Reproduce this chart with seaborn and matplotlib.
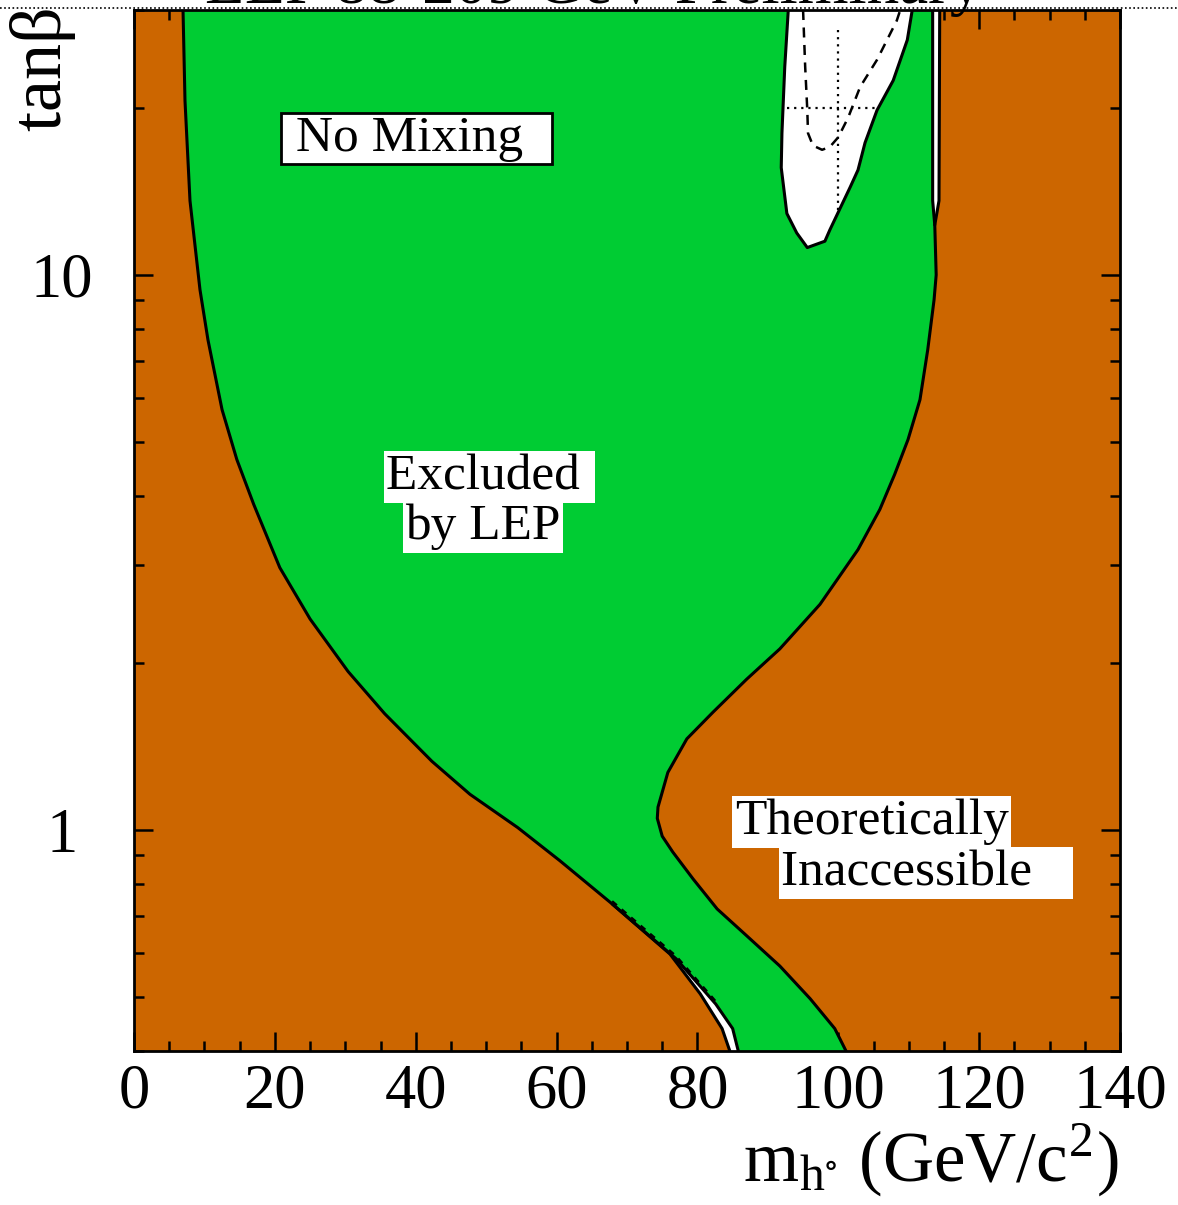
import numpy as np
import pandas as pd
import matplotlib
matplotlib.use("Agg")
import matplotlib.pyplot as plt
from matplotlib.ticker import FixedLocator, FixedFormatter, MultipleLocator, NullFormatter, LogLocator
from matplotlib.lines import Line2D
import seaborn as sns

# ---- data: boundaries in the (m_h, tan beta) plane ----
# left edge of the theoretically accessible region (top -> bottom)
left_x = [6.96, 7.24, 7.95, 9.37, 10.5, 12.5, 14.6, 17.0, 20.7, 25.0, 30.4, 35.6,
          42.3, 47.7, 54.5, 60.5, 67.9, 76.1, 80.4, 83.5, 84.6]
left_y = [30.0, 20.6, 13.6, 9.40, 7.64, 5.72, 4.65, 3.86, 2.97, 2.40, 1.93, 1.62,
          1.33, 1.16, 1.01, 0.880, 0.736, 0.598, 0.507, 0.439, 0.40]

# left edge of the LEP-excluded area near the bottom (splits off the boundary)
excl_low_x = [67.9, 77.0, 82.6, 85.0, 85.8]
excl_low_y = [0.736, 0.586, 0.486, 0.439, 0.40]

# right edge of the theoretically accessible region (top -> bottom)
right_x = [114.4, 114.3, 113.7, 113.9, 113.6, 112.7, 111.6, 109.9, 108.0, 105.9,
           102.8, 97.4, 91.7, 87.0, 82.2, 78.5, 75.8, 74.4, 74.3, 75.0, 76.5,
           79.4, 82.8, 87.0, 91.7, 96.0, 99.5, 101.1]
right_y = [30.0, 13.6, 12.3, 10.0, 9.02, 7.33, 5.96, 5.05, 4.37, 3.78, 3.20,
           2.55, 2.12, 1.87, 1.63, 1.46, 1.27, 1.10, 1.05, 0.975, 0.913, 0.816,
           0.721, 0.645, 0.569, 0.497, 0.439, 0.40]

# right edge of the LEP-excluded area at large tan beta
excl_top_x = [113.4, 113.4, 113.7]
excl_top_y = [30.0, 13.6, 12.3]

# allowed (not excluded) pocket at large tan beta
pocket_x = [92.9, 92.4, 92.0, 91.9, 92.7, 94.1, 95.6, 98.1, 98.8, 101.7, 102.8,
            103.8, 105.5, 107.8, 109.8, 110.5]
pocket_y = [30.0, 23.7, 18.0, 15.6, 12.9, 11.9, 11.2, 11.5, 12.05, 14.4, 15.45,
            17.3, 19.8, 22.4, 26.5, 30.0]

# expected limit (dashed)
expected_x = [95.0, 95.3, 95.6, 95.7, 96.4, 97.7, 98.8, 100.0, 101.4, 103.1,
              105.5, 108.3, 108.8]
expected_y = [30.0, 23.7, 19.8, 18.0, 17.1, 16.8, 17.0, 17.7, 19.2, 21.8, 24.4,
              28.7, 30.0]

# reference point cross-hair (dotted)
cross_v_x = [100.0, 100.0]
cross_v_y = [27.6, 12.9]
cross_h_x = [92.7, 105.5]
cross_h_y = [20.0, 20.0]

x_ticks = [0, 20, 40, 60, 80, 100, 120, 140]
y_ticks = [1, 10]
y_ticklabels = ["1", "10"]

ORANGE = "#CC6600"
GREEN = "#00CC33"

sns.set_theme(style="ticks")
plt.rcParams["font.family"] = ["Liberation Serif", "DejaVu Serif"]
plt.rcParams["mathtext.fontset"] = "stix"
for key in ("text.color", "axes.labelcolor", "xtick.color", "ytick.color",
            "xtick.labelcolor", "ytick.labelcolor"):
    plt.rcParams[key] = "black"

fig = plt.figure(figsize=(11.78, 12.05), dpi=100)
ax = fig.add_axes([134 / 1178, 1 - 1051 / 1205, (1120 - 134) / 1178, (1051 - 10) / 1205])
ax.set_facecolor(ORANGE)
ax.set_xlim(0, 140)
ax.set_yscale("log")
ax.set_ylim(0.4, 30)

# theoretically accessible region
acc_x = left_x + right_x[::-1]
acc_y = left_y + right_y[::-1]
ax.fill(acc_x, acc_y, color="white", lw=0, zorder=1)

# LEP-excluded region
ex_left_x = left_x[:16] + excl_low_x
ex_left_y = left_y[:16] + excl_low_y
ex_right_x = excl_top_x + right_x[3:]
ex_right_y = excl_top_y + right_y[3:]
ax.fill(ex_left_x + ex_right_x[::-1], ex_left_y + ex_right_y[::-1],
        color=GREEN, lw=0, zorder=2)

# allowed pocket
ax.fill(pocket_x, pocket_y, color="white", lw=0, zorder=3)

lw = 2.2
def curve(xs, ys, **kw):
    df = pd.DataFrame({"x": xs, "y": ys})
    sns.lineplot(data=df, x="x", y="y", sort=False, estimator=None, ax=ax,
                 color="black", zorder=4, **kw)

curve(left_x, left_y, linewidth=lw)
curve(right_x, right_y, linewidth=lw)
curve(excl_top_x, excl_top_y, linewidth=lw)
curve(excl_low_x, excl_low_y, linewidth=lw)
curve(pocket_x, pocket_y, linewidth=lw)
curve(expected_x, expected_y, linewidth=1.8, linestyle=(0, (4, 3)))
curve(excl_low_x[:3], [v * 1.012 for v in excl_low_y[:3]], linewidth=1.5,
      linestyle=(0, (3, 3)))
curve(cross_v_x, cross_v_y, linewidth=1.6, linestyle=(0, (1, 2.2)))
curve(cross_h_x, cross_h_y, linewidth=1.6, linestyle=(0, (1, 2.2)))

# axes styling
for s in ax.spines.values():
    s.set_linewidth(2.0)
    s.set_color("black")
    s.set_zorder(6)

ax.xaxis.set_major_locator(FixedLocator(x_ticks))
ax.xaxis.set_minor_locator(MultipleLocator(5))
ax.yaxis.set_major_locator(FixedLocator(y_ticks))
ax.yaxis.set_major_formatter(FixedFormatter(y_ticklabels))
ax.yaxis.set_minor_locator(LogLocator(base=10, subs=np.arange(2, 10)))
ax.yaxis.set_minor_formatter(NullFormatter())
ax.tick_params(which="both", direction="in", top=True, right=True, color="black",
               width=1.8, zorder=7)
ax.tick_params(which="major", length=14)
ax.tick_params(which="minor", length=7)
ax.tick_params(axis="x", which="major", labelsize=45, pad=9)
ax.tick_params(axis="y", which="major", labelsize=45, pad=52)
for lab in ax.get_yticklabels():
    lab.set_horizontalalignment("center")

ax.set_xlabel("")
ax.set_ylabel("")
fig.text(1118 / 1178, 1 - 1182 / 1205,
         r"m$_{\mathregular{h^{\circ}}}$ (GeV/c$^{\mathregular{2}}$)",
         fontsize=51, ha="right", va="baseline")
fig.text(78 / 1178, 1 - 8 / 1205, r"tan$\mathregular{\beta}$", fontsize=52,
         rotation=90, ha="right", va="top")

# title, running off the top edge
fig.text(205 / 1178, 1 - 3 / 1205, "LEP 88-209 GeV Preliminary", fontsize=47,
         ha="left", va="baseline")
fig.add_artist(Line2D([0.0, 1.0], [1 - 8 / 1205, 1 - 8 / 1205], color="black",
                      lw=1.2, linestyle=(0, (1, 1.5)), transform=fig.transFigure))

# region labels
ax.text(21.2, 17.6, " No Mixing  ", fontsize=37, ha="left", va="center", zorder=8,
        bbox=dict(boxstyle="square,pad=0.05", fc="white", ec="black", lw=2))
box = dict(boxstyle="square,pad=0.05", fc="white", ec="none")
ax.text(35.8, 4.11, "Excluded ", fontsize=37, ha="left", va="baseline", zorder=8, bbox=box)
ax.text(38.5, 3.34, "by LEP", fontsize=37, ha="left", va="baseline", zorder=8, bbox=box)
ax.text(85.3, 0.983, "Theoretically", fontsize=37, ha="left", va="baseline", zorder=8, bbox=box)
ax.text(91.9, 0.796, "Inaccessible   ", fontsize=37, ha="left", va="baseline", zorder=8, bbox=box)

fig.savefig("out.png", dpi=100)
